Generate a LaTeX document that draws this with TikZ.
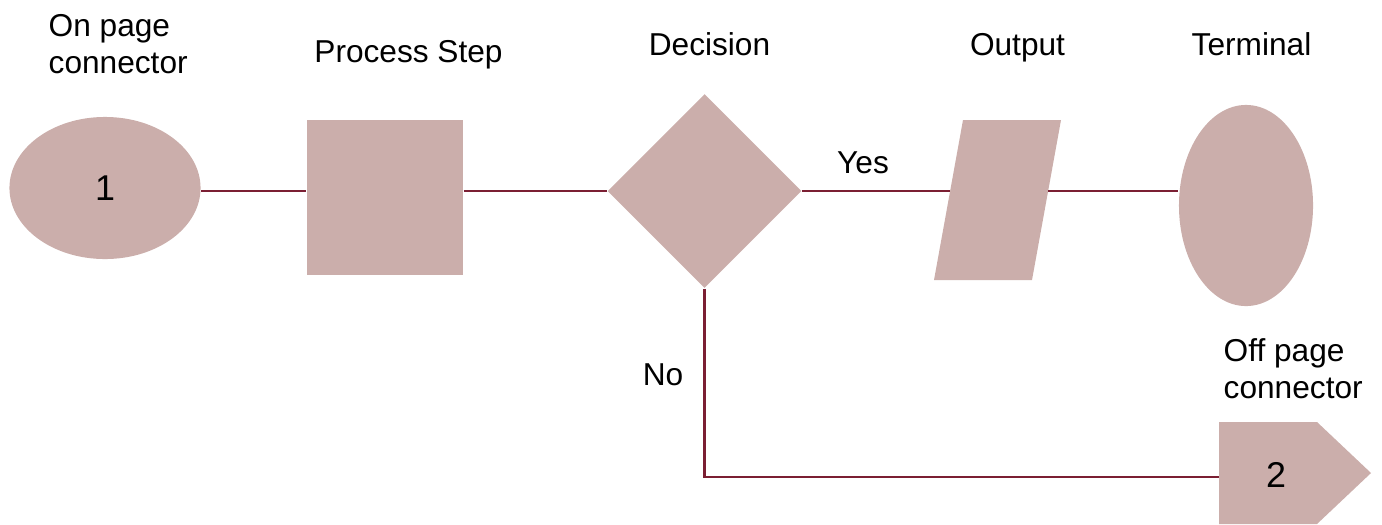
\documentclass[tikz,border=0pt]{standalone}
\usepackage{fontspec}
\setmainfont{Liberation Sans}
\usetikzlibrary{shapes.geometric}
\definecolor{shapefill}{HTML}{CBAEAB}
\definecolor{flowline}{HTML}{7B1F33}
\begin{document}
\begin{tikzpicture}[x=0.01cm, y=-0.01cm,
  font=\fontsize{9}{10.5}\selectfont,
  symbol/.style={fill=shapefill, draw=none, inner sep=0pt},
  digit/.style={font=\fontsize{10.2}{12}\selectfont},
  label/.style={inner sep=0pt, anchor=base},
  twoline/.style={inner sep=0pt, anchor=base west, align=left},
  link/.style={draw=flowline, line width=0.022cm}]
\useasboundingbox (0,0) rectangle (1382,524);

% flowchart symbols
\node[symbol, ellipse, minimum width=1.91cm, minimum height=1.42cm, digit] (onpage) at (105,188) {1};
\node[symbol, rectangle, minimum width=1.56cm, minimum height=1.55cm] (proc) at (385,197.5) {};
\node[symbol, diamond, minimum width=1.94cm, minimum height=1.94cm] (dec) at (704.5,191) {};
\fill[shapefill] (963,120) -- (1061,120) -- (1032,280) -- (934,280) -- cycle;
\coordinate (outin) at (950,191);
\coordinate (outout) at (1048,191);
\node[symbol, ellipse, minimum width=1.34cm, minimum height=2.01cm] (term) at (1246,205.5) {};
\fill[shapefill] (1219,422) -- (1317,422) -- (1371,473) -- (1317,524) -- (1219,524) -- cycle;
\coordinate (offin) at (1219,477);
\node[inner sep=0pt, digit] (offnum) at (1276,474.5) {2};

% captions
\node[twoline] (lonpage) at (48,73) {On page\\connector};
\node[label] (lproc) at (408.5,62) {Process Step};
\node[label] (ldec) at (709.5,55) {Decision};
\node[label] (lout) at (1017.5,55) {Output};
\node[label] (lterm) at (1251.5,55) {Terminal};
\node[label] (lyes) at (863,173) {Yes};
\node[label] (lno) at (663,385) {No};
\node[twoline] (loff) at (1223,398) {Off page\\connector};

% connectors
\draw[link] (onpage.east |- dec.west) -- (proc.west |- dec.west);
\draw[link] (proc.east |- dec.west) -- (dec.west);
\draw[link] (dec.east) -- (outin);
\draw[link] (outout) -- (term.west |- dec.east);
\draw[link] (dec.south) |- (offin);
\end{tikzpicture}
\end{document}
